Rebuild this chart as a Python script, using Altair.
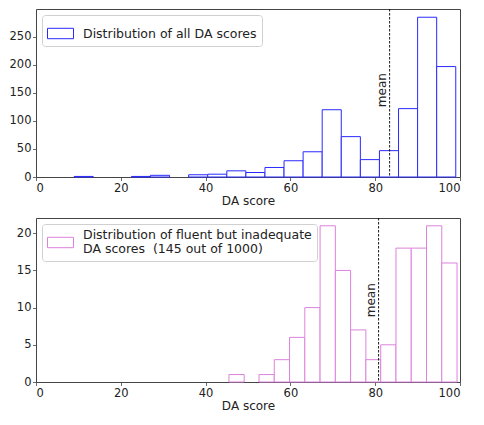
import altair as alt
import pandas as pd

# ---- data ----
top_name = "Distribution of all DA scores"
top_edges = [9.0, 13.5, 18.0, 22.5, 27.0, 31.5, 36.0, 40.5, 45.0, 49.5, 54.0,
             58.5, 63.0, 67.5, 72.0, 76.5, 81.0, 85.5, 90.0, 94.5, 99.0]
top_counts = [1, 0, 0, 1, 3, 0, 4, 5, 11, 8, 17, 29, 45, 120, 72, 31, 47, 122, 285, 197]
top_mean = 83.4

bot_name = "Distribution of fluent but inadequate\nDA scores \u00a0(145 out of 1000)"
bot_edges = [45.5, 49.1, 52.6, 56.2, 59.8, 63.4, 67.0, 70.6, 74.2, 77.8, 81.3,
             84.9, 88.5, 92.1, 95.7, 99.3]
bot_counts = [1, 0, 1, 3, 6, 10, 21, 15, 7, 3, 5, 18, 18, 21, 16]
bot_mean = 80.8

x_ticks = [0, 20, 40, 60, 80, 100]
top_yticks = [0, 50, 100, 150, 200, 250]
bot_yticks = [0, 5, 10, 15, 20]


def hist_df(edges, counts, name):
    rows = []
    for i, c in enumerate(counts):
        if c > 0:
            rows.append({"lo": edges[i], "hi": edges[i + 1], "count": c, "series": name})
    return pd.DataFrame(rows)


def panel(edges, counts, name, color, mean, ymax, yticks, label_y, h, label_baseline):
    df = hist_df(edges, counts, name)
    xscale = alt.Scale(domain=[0, 100], nice=False, zero=False)
    xaxis = alt.Axis(values=x_ticks, title="DA score")
    yscale = alt.Scale(domain=[0, ymax], nice=False)
    yaxis = alt.Axis(values=yticks, title=None, labelOverlap=False)
    bars = alt.Chart(df).mark_rect(fill="white", strokeWidth=1).encode(
        x=alt.X("lo:Q", scale=xscale, axis=xaxis),
        x2="hi:Q",
        y=alt.Y("count:Q", scale=yscale, axis=yaxis),
        y2=alt.datum(0),
        stroke=alt.Stroke("series:N", scale=alt.Scale(domain=[name], range=[color]),
                          legend=alt.Legend(title=None, labelBaseline=label_baseline,
                                            labelExpr="split(datum.label, '\\n')")),
    )
    mdf = pd.DataFrame({"mean": [mean], "ly": [label_y], "label": ["mean"]})
    rule = alt.Chart(mdf).mark_rule(color="black", strokeDash=[2.5, 1.5], strokeWidth=0.9).encode(
        x=alt.X("mean:Q", scale=xscale, axis=xaxis))
    txt = alt.Chart(mdf).mark_text(angle=270, baseline="bottom", align="center",
                                   fontSize=12, color="#222", dy=-1,
                                   font="DejaVu Sans").encode(
        x=alt.X("mean:Q", scale=xscale, axis=xaxis),
        y=alt.Y("ly:Q", scale=yscale, axis=yaxis),
        text="label:N")
    return alt.layer(bars, rule, txt).properties(width=424, height=h)


top = panel(top_edges, top_counts, top_name, "#2a2aff", top_mean, 299.7, top_yticks, 155, 168,
            "middle")
bot = panel(bot_edges, bot_counts, bot_name, "#dc82dc", bot_mean, 22.05, bot_yticks, 11, 164,
            "line-bottom")

chart = alt.vconcat(top, bot, spacing=10).resolve_scale(stroke="independent").properties(
    padding={"left": 0, "top": 0, "right": 0, "bottom": 0}
).configure_view(
    stroke="#444", strokeWidth=1
).configure_axis(
    domain=False, grid=False, tickColor="#444", tickSize=3.5, tickWidth=0.8,
    labelFontSize=11.5, labelColor="#222", labelFont="DejaVu Sans", labelPadding=1.5,
    titleFontSize=12, titleFontWeight="normal", titleColor="#222", titleFont="DejaVu Sans",
    titlePadding=2,
).configure_legend(
    orient="top-left", offset=6, padding=5, fillColor="white", strokeColor="#d0d0d0",
    cornerRadius=3, labelFontSize=12.5, labelFont="DejaVu Sans", labelColor="#222",
    labelLimit=500, labelOffset=9, symbolSize=676, symbolStrokeWidth=1,
    symbolFillColor="white", symbolType="M-1,-0.4H1V0.4H-1Z",
)

chart.save("out.html", embed_options={"renderer": "svg", "actions": False})
